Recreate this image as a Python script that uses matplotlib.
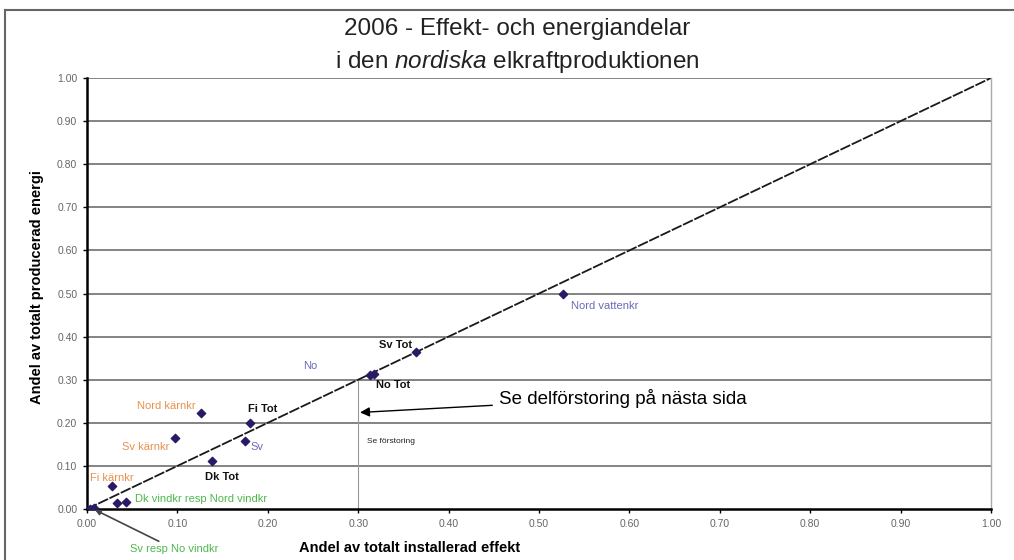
import numpy as np
import matplotlib
matplotlib.use("Agg")
import matplotlib.pyplot as plt
from matplotlib.lines import Line2D

plt.rcParams['font.family'] = ['Liberation Sans', 'DejaVu Sans']
plt.rcParams['mathtext.fontset'] = 'custom'
plt.rcParams['mathtext.it'] = 'Liberation Sans:italic'
plt.rcParams['mathtext.rm'] = 'Liberation Sans'

# andel installerad effekt (x) och producerad energi (y)
namn = ['Nord vattenkr', 'Sv Tot', 'No', 'No Tot', 'Nord kärnkr', 'Fi Tot',
        'Sv kärnkr', 'Sv', 'Dk Tot', 'Fi kärnkr', 'Dk vindkr', 'Nord vindkr',
        'Sv vindkr', 'No vindkr']
effekt = [0.526, 0.364, 0.313, 0.317, 0.126, 0.180, 0.097, 0.175, 0.138,
          0.028, 0.033, 0.043, 0.003, 0.008]
energi = [0.500, 0.365, 0.310, 0.314, 0.223, 0.200, 0.165, 0.158, 0.112,
          0.053, 0.014, 0.016, 0.001, 0.002]

# etiketter: text, färg, förskjutning (pt), justering
etiketter = {
    'Nord vattenkr': ('Nord vattenkr', '#6a6ab8', (6, -9), 'left'),
    'Sv Tot': ('Sv Tot', '#111111', (-3, 5), 'right'),
    'No': ('No', '#6a6ab8', (-38, 6.5), 'right'),
    'No Tot': ('No Tot', '#111111', (2, -8), 'left'),
    'Nord kärnkr': ('Nord kärnkr', '#e8904a', (-4, 5), 'right'),
    'Fi Tot': ('Fi Tot', '#111111', (-1.5, 10), 'left'),
    'Sv kärnkr': ('Sv kärnkr', '#e8904a', (-4, -6.5), 'right'),
    'Sv': ('Sv', '#6a6ab8', (3.5, -4.5), 'left'),
    'Dk Tot': ('Dk Tot', '#111111', (-5, -11.5), 'left'),
    'Fi kärnkr': ('Fi kärnkr', '#e8904a', (-16, 6), 'left'),
    'Nord vindkr': ('Dk vindkr resp Nord vindkr', '#4cb84c', (6.5, 2), 'left'),
}

ticks = np.arange(0, 1.01, 0.1)

fig = plt.figure(figsize=(10.14, 5.6), dpi=100)
ax = fig.add_axes([87/1014, 1-509/560, (991-87)/1014, (509-78)/560])

for t in ticks[1:]:
    ax.axhline(t, color='#7a7a7a', lw=1.3, zorder=1)

ax.plot([0, 1], [0, 1], color='#1a1a1a', lw=1.3, ls=(0, (6, 0.9)), zorder=2)
ax.plot([0.30, 0.30], [0, 0.30], color='#999999', lw=0.8, zorder=1)

ax.scatter(effekt, energi, marker='D', s=18, color='#2a1a66', zorder=3)

for n, x, y in zip(namn, effekt, energi):
    if n in etiketter:
        txt, col, off, ha = etiketter[n]
        bold = 'bold' if col == '#111111' else 'normal'
        ax.annotate(txt, (x, y), xytext=off, textcoords='offset points',
                    ha=ha, va='center', fontsize=8, color=col, fontweight=bold)

ax.annotate('Sv resp No vindkr', (0.006, 0.001), xytext=(0.048, -0.093),
            ha='left', va='center', fontsize=8, color='#4cb84c',
            arrowprops=dict(arrowstyle='-|>', color='#444444', lw=1.2,
                            mutation_scale=8, shrinkA=0, shrinkB=2),
            annotation_clip=False)

ax.text(0.31, 0.157, 'Se förstoring', fontsize=6, color='#222222',
        va='center', ha='left')

ax.annotate('Se delförstoring på nästa sida', (0.302, 0.224),
            xytext=(0.456, 0.257), ha='left', va='center', fontsize=13.5,
            color='#000000',
            arrowprops=dict(arrowstyle='-|>', color='#000000', lw=1.0,
                            mutation_scale=14, shrinkA=3, shrinkB=0))

ax.set_xlim(0, 1)
ax.set_ylim(0, 1)
ax.set_xticks(ticks)
ax.set_yticks(ticks)
ax.set_xticklabels(['%.2f' % t for t in ticks])
ax.set_yticklabels(['%.2f' % t for t in ticks])
ax.tick_params(axis='both', labelsize=7.5, labelcolor='#666666', length=3,
               width=1, direction='out', pad=4)

for s in ['left', 'bottom']:
    ax.spines[s].set_color('#000000')
    ax.spines[s].set_linewidth(1.8)
ax.spines['right'].set_color('#aaaaaa')
ax.spines['right'].set_linewidth(1.0)
ax.spines['top'].set_visible(False)

fig.text(410/1014, 1-548/560, 'Andel av totalt installerad effekt',
         ha='center', va='center', fontsize=10.5, fontweight='bold')
fig.text(37/1014, 1-287/560, 'Andel av totalt producerad energi',
         ha='center', va='center', fontsize=10.5, fontweight='bold',
         rotation=90)

fig.text(517/1014, 1-29/560, '2006 - Effekt- och energiandelar',
         ha='center', va='center', fontsize=17.5, color='#222222')
fig.text(517/1014, 1-61/560, r'i den $\it{nordiska}$ elkraftproduktionen',
         ha='center', va='center', fontsize=17.5, color='#222222')

# ram runt diagrammet
fig.add_artist(Line2D([5/1014, 1], [1-10/560, 1-10/560], color='#666666', lw=1.5))
fig.add_artist(Line2D([5/1014, 5/1014], [0, 1-10/560], color='#666666', lw=1.5))

fig.savefig('out.png', dpi=100)
